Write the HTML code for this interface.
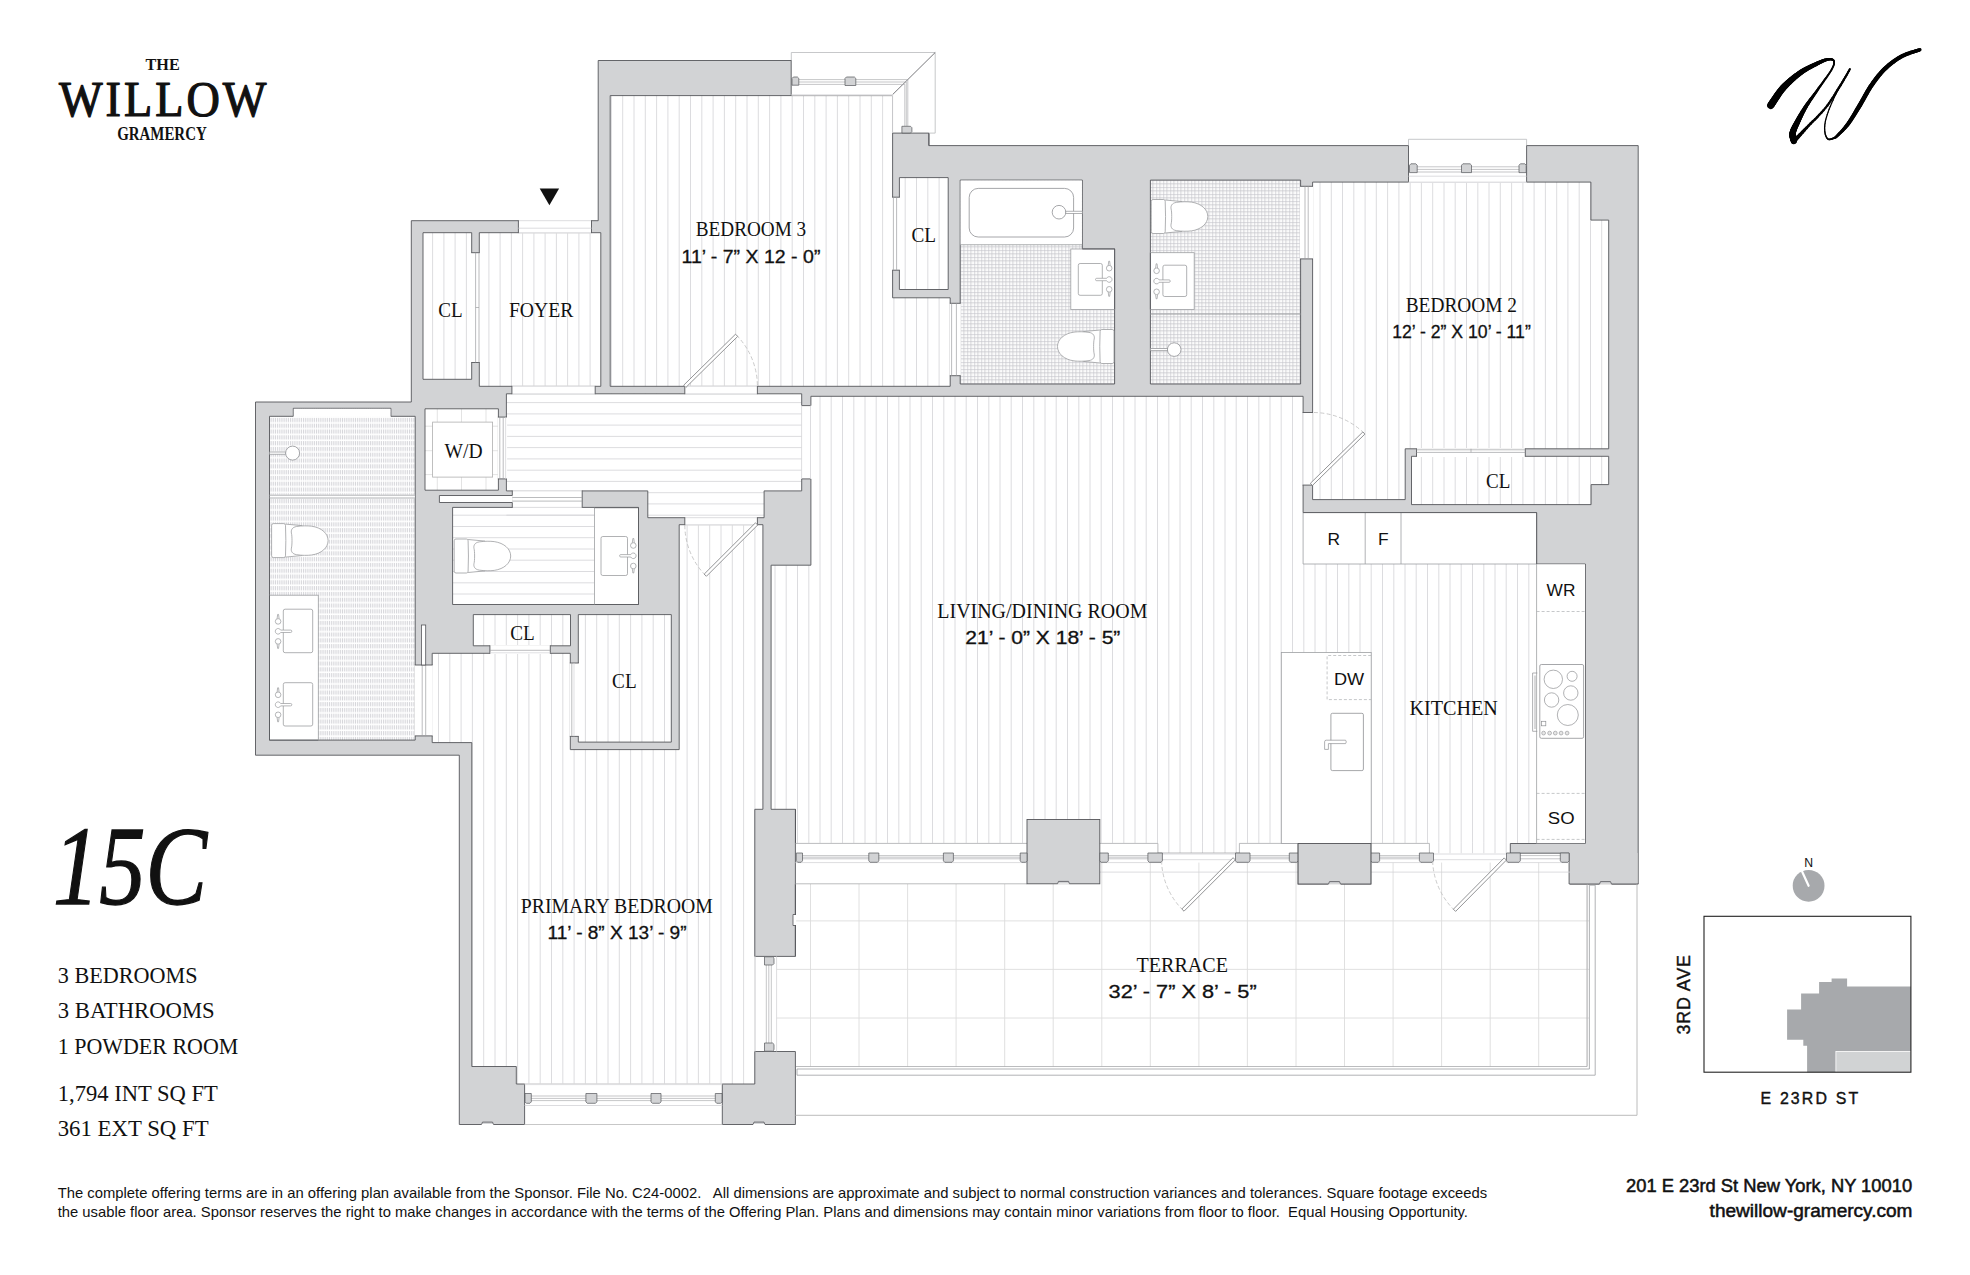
<!DOCTYPE html>
<html lang="en"><head><meta charset="utf-8"><title>The Willow Gramercy - 15C</title>
<style>
html,body{margin:0;padding:0;background:#fff}
svg{display:block}
text{fill:#111}
.sf{font-family:"Liberation Serif","DejaVu Serif",serif}
.ss{font-family:"Liberation Sans","DejaVu Sans",sans-serif}
</style></head><body>
<svg width="1970" height="1275" viewBox="0 0 1970 1275">
<defs>
<pattern id="tile" x="960.2" y="180.1" width="7" height="7" patternUnits="userSpaceOnUse"><rect width="7" height="7" fill="#fbfbfb"/><path d="M0 .3H7M0 3.8H7M.3 0V7M3.8 0V7" stroke="#c3c3c9" stroke-width=".75"/></pattern>
<pattern id="tile2" x="269.5" y="416.9" width="1.86" height="5.8" patternUnits="userSpaceOnUse"><rect width="1.86" height="5.8" fill="#fff"/><path d="M.5 1V5.2" stroke="#c9c9cd" stroke-width=".75"/></pattern>
</defs>
<rect width="1970" height="1275" fill="#fff"/>
<path d="M611.4 95.0V394.0M622.7 95.0V394.0M634.0 95.0V394.0M645.3 95.0V394.0M656.6 95.0V394.0M667.9 95.0V394.0M679.2 95.0V394.0M690.5 95.0V394.0M701.8 95.0V394.0M713.1 95.0V394.0M724.4 95.0V394.0M735.7 95.0V394.0M747.0 95.0V394.0M758.3 95.0V394.0M769.6 95.0V394.0M780.9 95.0V394.0M792.2 95.0V394.0M803.5 95.0V394.0M814.8 95.0V394.0M826.1 95.0V394.0M837.4 95.0V394.0M848.7 95.0V394.0M860.0 95.0V394.0M871.3 95.0V394.0M882.6 95.0V394.0" stroke="#d3d3d7" stroke-width="0.8" fill="none"/>
<path d="M893.9 297.0V394.0M905.2 297.0V394.0M916.5 297.0V394.0M927.8 297.0V394.0M939.1 297.0V394.0M950.4 297.0V394.0" stroke="#d3d3d7" stroke-width="0.8" fill="none"/>
<path d="M905.2 177.0V290.0M916.5 177.0V290.0M927.8 177.0V290.0M939.1 177.0V290.0" stroke="#d3d3d7" stroke-width="0.8" fill="none"/>
<path d="M432.6 232.0V387.0M443.9 232.0V387.0M455.1 232.0V387.0M466.4 232.0V387.0M477.6 232.0V387.0M488.9 232.0V387.0M500.1 232.0V387.0M511.4 232.0V387.0M522.6 232.0V387.0M533.9 232.0V387.0M545.1 232.0V387.0M556.4 232.0V387.0M567.6 232.0V387.0M578.9 232.0V387.0M590.1 232.0V387.0" stroke="#d3d3d7" stroke-width="0.8" fill="none"/>
<path d="M820.0 396.0V853.0M831.2 396.0V853.0M842.5 396.0V853.0M853.8 396.0V853.0M865.0 396.0V853.0M876.2 396.0V853.0M887.5 396.0V853.0M898.8 396.0V853.0M910.0 396.0V853.0M921.2 396.0V853.0M932.5 396.0V853.0M943.8 396.0V853.0M955.0 396.0V853.0M966.2 396.0V853.0M977.5 396.0V853.0M988.8 396.0V853.0M1000.0 396.0V853.0M1011.2 396.0V853.0M1022.5 396.0V853.0M1033.8 396.0V853.0M1045.0 396.0V853.0M1056.2 396.0V853.0M1067.5 396.0V853.0M1078.8 396.0V853.0M1090.0 396.0V853.0M1101.2 396.0V853.0M1112.5 396.0V853.0M1123.8 396.0V853.0M1135.0 396.0V853.0M1146.2 396.0V853.0M1157.5 396.0V853.0M1168.8 396.0V853.0M1180.0 396.0V853.0M1191.2 396.0V853.0M1202.5 396.0V853.0M1213.8 396.0V853.0M1225.0 396.0V853.0M1236.2 396.0V853.0M1247.5 396.0V853.0M1258.8 396.0V853.0M1270.0 396.0V853.0M1281.2 396.0V853.0M1292.5 396.0V853.0" stroke="#d3d3d7" stroke-width="0.8" fill="none"/>
<path d="M1303.8 564.0V853.0M1315.0 564.0V853.0M1326.2 564.0V853.0M1337.5 564.0V853.0M1348.8 564.0V853.0M1360.0 564.0V853.0M1371.2 564.0V853.0M1382.5 564.0V853.0M1393.8 564.0V853.0M1405.0 564.0V853.0M1416.2 564.0V853.0M1427.5 564.0V853.0M1438.8 564.0V853.0M1450.0 564.0V853.0M1461.2 564.0V853.0M1472.5 564.0V853.0M1483.8 564.0V853.0M1495.0 564.0V853.0M1506.2 564.0V853.0M1517.5 564.0V853.0M1528.8 564.0V853.0" stroke="#d3d3d7" stroke-width="0.8" fill="none"/>
<path d="M775.0 565.0V853.0M786.2 565.0V853.0M797.5 565.0V853.0M808.8 565.0V853.0" stroke="#d3d3d7" stroke-width="0.8" fill="none"/>
<path d="M1320.0 182.0V449.0M1331.3 182.0V449.0M1342.5 182.0V449.0M1353.8 182.0V449.0M1365.1 182.0V449.0M1376.3 182.0V449.0M1387.6 182.0V449.0M1398.9 182.0V449.0M1410.2 182.0V449.0M1421.4 182.0V449.0M1432.7 182.0V449.0M1444.0 182.0V449.0M1455.2 182.0V449.0M1466.5 182.0V449.0M1477.8 182.0V449.0M1489.0 182.0V449.0M1500.3 182.0V449.0M1511.6 182.0V449.0M1522.9 182.0V449.0M1534.1 182.0V449.0M1545.4 182.0V449.0M1556.7 182.0V449.0M1567.9 182.0V449.0M1579.2 182.0V449.0M1590.5 182.0V449.0M1601.7 182.0V449.0" stroke="#d3d3d7" stroke-width="0.8" fill="none"/>
<path d="M1320.0 449.0V500.0M1331.3 449.0V500.0M1342.5 449.0V500.0M1353.8 449.0V500.0M1365.1 449.0V500.0M1376.3 449.0V500.0M1387.6 449.0V500.0M1398.9 449.0V500.0" stroke="#d3d3d7" stroke-width="0.8" fill="none"/>
<path d="M1421.4 456.0V505.0M1432.7 456.0V505.0M1444.0 456.0V505.0M1455.2 456.0V505.0M1466.5 456.0V505.0M1477.8 456.0V505.0M1489.0 456.0V505.0M1500.3 456.0V505.0M1511.6 456.0V505.0M1522.9 456.0V505.0M1534.1 456.0V505.0M1545.4 456.0V505.0M1556.7 456.0V505.0M1567.9 456.0V505.0M1579.2 456.0V505.0M1590.5 456.0V505.0M1601.7 456.0V505.0" stroke="#d3d3d7" stroke-width="0.8" fill="none"/>
<path d="M438.5 653.0V743.0M449.8 653.0V743.0M461.1 653.0V743.0M472.4 653.0V743.0M483.7 653.0V743.0M495.0 653.0V743.0M506.3 653.0V743.0M517.6 653.0V743.0M528.9 653.0V743.0M540.2 653.0V743.0M551.5 653.0V743.0M562.8 653.0V743.0" stroke="#d3d3d7" stroke-width="0.8" fill="none"/>
<path d="M472.4 743.0V1085.0M483.7 743.0V1085.0M495.0 743.0V1085.0M506.3 743.0V1085.0M517.6 743.0V1085.0M528.9 743.0V1085.0M540.2 743.0V1085.0M551.5 743.0V1085.0M562.8 743.0V1085.0M574.1 743.0V1085.0M585.4 743.0V1085.0M596.7 743.0V1085.0M608.0 743.0V1085.0M619.3 743.0V1085.0M630.6 743.0V1085.0M641.9 743.0V1085.0M653.2 743.0V1085.0M664.5 743.0V1085.0M675.8 743.0V1085.0M687.1 743.0V1085.0M698.4 743.0V1085.0M709.7 743.0V1085.0M721.0 743.0V1085.0M732.3 743.0V1085.0M743.6 743.0V1085.0M754.9 743.0V1085.0" stroke="#d3d3d7" stroke-width="0.8" fill="none"/>
<path d="M687.1 519.0V743.0M698.4 519.0V743.0M709.7 519.0V743.0M721.0 519.0V743.0M732.3 519.0V743.0M743.6 519.0V743.0M754.9 519.0V743.0" stroke="#d3d3d7" stroke-width="0.8" fill="none"/>
<path d="M483.7 614.0V654.0M495.0 614.0V654.0M506.3 614.0V654.0M517.6 614.0V654.0M528.9 614.0V654.0M540.2 614.0V654.0M551.5 614.0V654.0M562.8 614.0V654.0" stroke="#d3d3d7" stroke-width="0.8" fill="none"/>
<path d="M585.4 614.0V743.0M596.7 614.0V743.0M608.0 614.0V743.0M619.3 614.0V743.0M630.6 614.0V743.0M641.9 614.0V743.0M653.2 614.0V743.0M664.5 614.0V743.0" stroke="#d3d3d7" stroke-width="0.8" fill="none"/>
<path d="M506.4 402.6H801.7M506.4 413.9H801.7M506.4 425.1H801.7M506.4 436.4H801.7M506.4 447.6H801.7M506.4 458.9H801.7M506.4 470.2H801.7M506.4 481.4H801.7M506.4 492.7H801.7M506.4 503.9H801.7M506.4 515.2H801.7" stroke="#d3d3d7" stroke-width="0.8" fill="none"/>
<path d="M452.6 515.2H594.5M452.6 526.5H594.5M452.6 537.7H594.5M452.6 549.0H594.5M452.6 560.2H594.5M452.6 571.5H594.5M452.6 582.8H594.5M452.6 594.0H594.5" stroke="#d3d3d7" stroke-width="0.8" fill="none"/>
<rect x="960.0" y="180.0" width="155.0" height="204.5" fill="url(#tile)"  />
<rect x="1150.0" y="180.0" width="151.0" height="204.5" fill="url(#tile)"  />
<rect x="269.0" y="408.0" width="147.0" height="333.0" fill="url(#tile2)"  />
<rect x="425.0" y="408.8" width="73.4" height="81.4" fill="#fff"  />
<line x1="437.3" y1="408.8" x2="437.3" y2="490.2" stroke="#dcdcdc" stroke-width="0.8" />
<line x1="461.5" y1="408.8" x2="461.5" y2="490.2" stroke="#dcdcdc" stroke-width="0.8" />
<line x1="486.0" y1="408.8" x2="486.0" y2="490.2" stroke="#dcdcdc" stroke-width="0.8" />
<line x1="425.0" y1="426.2" x2="498.4" y2="426.2" stroke="#dcdcdc" stroke-width="0.8" />
<line x1="425.0" y1="450.7" x2="498.4" y2="450.7" stroke="#dcdcdc" stroke-width="0.8" />
<line x1="425.0" y1="474.6" x2="498.4" y2="474.6" stroke="#dcdcdc" stroke-width="0.8" />
<path d="M598.2 60.5 L928.9 60.5 L928.9 145.6 L1638.2 145.6 L1638.2 884.0 L795.4 884.0 L795.4 1124.5 L459.3 1124.5 L459.3 755.2 L255.5 755.2 L255.5 402.0 L411.3 402.0 L411.3 220.7 L598.2 220.7 Z M423.0 232.7 L471.7 232.7 L471.7 379.3 L423.0 379.3 Z M479.3 232.7 L600.8 232.7 L600.8 386.3 L479.3 386.3 Z M610.2 95.6 L892.6 95.6 L892.6 297.8 L950.2 297.8 L950.2 386.3 L610.2 386.3 Z M899.4 177.6 L948.2 177.6 L948.2 289.5 L899.4 289.5 Z M960.2 180.1 L1082.3 180.1 L1082.3 249.0 L1114.6 249.0 L1114.6 384.0 L960.2 384.0 Z M1150.4 180.1 L1300.6 180.1 L1300.6 384.0 L1150.4 384.0 Z M1312.6 182.1 L1590.9 182.1 L1590.9 220.1 L1608.7 220.1 L1608.7 448.8 L1405.2 448.8 L1405.2 499.6 L1312.6 499.6 Z M1411.5 456.3 L1608.7 456.3 L1608.7 484.6 L1591.1 484.6 L1591.1 504.6 L1411.5 504.6 Z M506.4 393.8 L801.7 393.8 L801.7 405.6 L810.9 405.6 L810.9 396.3 L1303.1 396.3 L1303.1 512.6 L1536.6 512.6 L1536.6 564.0 L1585.4 564.0 L1585.4 843.5 L795.5 843.5 L795.5 809.3 L771.1 809.3 L771.1 565.2 L810.9 565.2 L810.9 478.9 L801.7 478.9 L801.7 490.9 L764.1 490.9 L764.1 517.7 L647.8 517.7 L647.8 490.9 L512.3 490.9 L506.4 490.9 Z M425.0 408.8 L498.4 408.8 L498.4 490.2 L425.0 490.2 Z M439.4 495.5 L513.2 495.5 L513.2 502.5 L439.4 502.5 Z M452.6 507.4 L638.5 507.4 L638.5 604.5 L452.6 604.5 Z M473.3 614.6 L570.5 614.6 L570.5 645.8 L473.3 645.8 Z M578.3 614.6 L671.3 614.6 L671.3 742.1 L578.3 742.1 Z M269.5 416.3 L293.3 416.3 L293.3 408.3 L390.9 408.3 L390.9 416.3 L415.2 416.3 L415.2 740.1 L269.5 740.1 Z M432.2 653.3 L570.3 653.3 L570.3 749.6 L679.2 749.6 L679.2 524.7 L762.9 524.7 L762.9 809.3 L754.8 809.3 L754.8 1084.0 L516.3 1084.0 L516.3 1066.5 L471.8 1066.5 L471.8 742.6 L432.2 742.6 Z" fill="#d2d3d5" fill-rule="evenodd" stroke="#55565a" stroke-width=".9" stroke-linejoin="miter"/>
<rect x="518.4" y="220.0" width="73.1" height="13.4" fill="#fff"  />
<line x1="518.4" y1="220.7" x2="591.5" y2="220.7" stroke="#d3d3d7" stroke-width="0.8" />
<line x1="518.4" y1="232.7" x2="591.5" y2="232.7" stroke="#d3d3d7" stroke-width="0.8" />
<line x1="518.4" y1="220.2" x2="518.4" y2="233.1" stroke="#55565a" stroke-width="0.9" />
<line x1="591.5" y1="220.2" x2="591.5" y2="233.1" stroke="#55565a" stroke-width="0.9" />
<line x1="518.4" y1="228.2" x2="591.5" y2="228.2" stroke="#d3d3d7" stroke-width="0.8" />
<rect x="471.0" y="252.7" width="9.0" height="109.8" fill="#fff"  />
<line x1="471.2" y1="252.7" x2="479.8" y2="252.7" stroke="#55565a" stroke-width="0.9" />
<line x1="471.2" y1="362.5" x2="479.8" y2="362.5" stroke="#55565a" stroke-width="0.9" />
<line x1="475.6" y1="252.7" x2="475.6" y2="362.5" stroke="#9d9fa2" stroke-width="0.7" />
<line x1="479.0" y1="252.7" x2="479.0" y2="362.5" stroke="#9d9fa2" stroke-width="0.7" />
<line x1="475.6" y1="307.5" x2="479.0" y2="307.5" stroke="#9d9fa2" stroke-width="0.7" />
<rect x="511.9" y="385.6" width="83.3" height="8.9" fill="#fff"  />
<line x1="511.9" y1="386.3" x2="595.2" y2="386.3" stroke="#d3d3d7" stroke-width="0.8" />
<line x1="511.9" y1="393.8" x2="595.2" y2="393.8" stroke="#d3d3d7" stroke-width="0.8" />
<line x1="511.9" y1="385.9" x2="511.9" y2="394.2" stroke="#55565a" stroke-width="0.9" />
<line x1="595.2" y1="385.9" x2="595.2" y2="394.2" stroke="#55565a" stroke-width="0.9" />
<rect x="684.8" y="385.6" width="72.6" height="8.9" fill="#fff"  />
<line x1="684.8" y1="386.3" x2="757.4" y2="386.3" stroke="#d3d3d7" stroke-width="0.8" />
<line x1="684.8" y1="393.8" x2="757.4" y2="393.8" stroke="#d3d3d7" stroke-width="0.8" />
<line x1="684.8" y1="385.9" x2="684.8" y2="394.2" stroke="#55565a" stroke-width="0.9" />
<line x1="757.4" y1="385.9" x2="757.4" y2="394.2" stroke="#55565a" stroke-width="0.9" />
<line x1="801.6" y1="405.6" x2="801.6" y2="478.9" stroke="#d3d3d7" stroke-width="0.8" />
<line x1="810.5" y1="405.6" x2="810.5" y2="478.9" stroke="#d3d3d7" stroke-width="0.8" />
<rect x="891.9" y="197.2" width="8.2" height="73.0" fill="#fff"  />
<line x1="892.1" y1="197.2" x2="899.9" y2="197.2" stroke="#55565a" stroke-width="0.9" />
<line x1="892.1" y1="270.2" x2="899.9" y2="270.2" stroke="#55565a" stroke-width="0.9" />
<line x1="893.4" y1="197.2" x2="893.4" y2="270.2" stroke="#9d9fa2" stroke-width="0.7" />
<line x1="896.6" y1="197.2" x2="896.6" y2="270.2" stroke="#9d9fa2" stroke-width="0.7" />
<rect x="949.5" y="303.3" width="11.4" height="72.4" fill="#fff"  />
<line x1="949.8" y1="303.3" x2="960.7" y2="303.3" stroke="#55565a" stroke-width="0.9" />
<line x1="949.8" y1="375.7" x2="960.7" y2="375.7" stroke="#55565a" stroke-width="0.9" />
<line x1="951.6" y1="303.3" x2="951.6" y2="375.7" stroke="#9d9fa2" stroke-width="0.7" />
<line x1="956.4" y1="303.3" x2="956.4" y2="375.7" stroke="#9d9fa2" stroke-width="0.7" />
<rect x="1299.9" y="186.3" width="13.4" height="72.6" fill="#fff"  />
<line x1="1300.1" y1="186.3" x2="1313.0" y2="186.3" stroke="#55565a" stroke-width="0.9" />
<line x1="1300.1" y1="258.9" x2="1313.0" y2="258.9" stroke="#55565a" stroke-width="0.9" />
<line x1="1305.0" y1="186.3" x2="1305.0" y2="258.9" stroke="#9d9fa2" stroke-width="0.7" />
<line x1="1308.2" y1="186.3" x2="1308.2" y2="258.9" stroke="#9d9fa2" stroke-width="0.7" />
<rect x="1302.4" y="412.5" width="10.9" height="72.6" fill="#fff"  />
<line x1="1303.1" y1="412.5" x2="1303.1" y2="485.1" stroke="#d3d3d7" stroke-width="0.8" />
<line x1="1312.6" y1="412.5" x2="1312.6" y2="485.1" stroke="#d3d3d7" stroke-width="0.8" />
<line x1="1302.6" y1="412.5" x2="1313.0" y2="412.5" stroke="#55565a" stroke-width="0.9" />
<line x1="1302.6" y1="485.1" x2="1313.0" y2="485.1" stroke="#55565a" stroke-width="0.9" />
<rect x="1416.5" y="448.1" width="108.8" height="8.9" fill="#fff"  />
<line x1="1416.5" y1="448.4" x2="1416.5" y2="456.8" stroke="#55565a" stroke-width="0.9" />
<line x1="1525.3" y1="448.4" x2="1525.3" y2="456.8" stroke="#55565a" stroke-width="0.9" />
<line x1="1416.5" y1="449.8" x2="1525.3" y2="449.8" stroke="#9d9fa2" stroke-width="0.7" />
<line x1="1416.5" y1="452.4" x2="1525.3" y2="452.4" stroke="#9d9fa2" stroke-width="0.7" />
<line x1="1471.0" y1="448.8" x2="1471.0" y2="452.4" stroke="#9d9fa2" stroke-width="0.7" />
<rect x="497.7" y="417.1" width="9.4" height="61.8" fill="#fff"  />
<line x1="497.9" y1="417.1" x2="506.8" y2="417.1" stroke="#55565a" stroke-width="0.9" />
<line x1="497.9" y1="478.9" x2="506.8" y2="478.9" stroke="#55565a" stroke-width="0.9" />
<line x1="499.8" y1="417.1" x2="499.8" y2="478.9" stroke="#9d9fa2" stroke-width="0.7" />
<line x1="503.2" y1="417.1" x2="503.2" y2="478.9" stroke="#9d9fa2" stroke-width="0.7" />
<line x1="505.6" y1="417.1" x2="505.6" y2="478.9" stroke="#d3d3d7" stroke-width="0.7" />
<rect x="512.3" y="490.2" width="69.9" height="17.9" fill="#fff"  />
<line x1="512.3" y1="490.9" x2="582.2" y2="490.9" stroke="#d3d3d7" stroke-width="0.8" />
<line x1="512.3" y1="507.4" x2="582.2" y2="507.4" stroke="#d3d3d7" stroke-width="0.8" />
<line x1="582.2" y1="490.4" x2="582.2" y2="507.8" stroke="#55565a" stroke-width="0.9" />
<line x1="512.3" y1="497.5" x2="582.2" y2="497.5" stroke="#9d9fa2" stroke-width="0.7" />
<line x1="512.3" y1="501.1" x2="582.2" y2="501.1" stroke="#9d9fa2" stroke-width="0.7" />
<line x1="512.3" y1="490.4" x2="512.3" y2="495.5" stroke="#55565a" stroke-width="0.9" />
<line x1="512.3" y1="502.5" x2="512.3" y2="507.9" stroke="#55565a" stroke-width="0.9" />
<rect x="489.9" y="645.1" width="60.4" height="8.9" fill="#fff"  />
<line x1="489.9" y1="645.3" x2="489.9" y2="653.8" stroke="#55565a" stroke-width="0.9" />
<line x1="550.3" y1="645.3" x2="550.3" y2="653.8" stroke="#55565a" stroke-width="0.9" />
<line x1="489.9" y1="650.3" x2="550.3" y2="650.3" stroke="#9d9fa2" stroke-width="0.7" />
<line x1="489.9" y1="652.8" x2="550.3" y2="652.8" stroke="#d3d3d7" stroke-width="0.7" />
<rect x="569.6" y="663.0" width="9.4" height="73.4" fill="#fff"  />
<line x1="569.8" y1="663.0" x2="578.8" y2="663.0" stroke="#55565a" stroke-width="0.9" />
<line x1="569.8" y1="736.4" x2="578.8" y2="736.4" stroke="#55565a" stroke-width="0.9" />
<line x1="571.8" y1="663.0" x2="571.8" y2="736.4" stroke="#9d9fa2" stroke-width="0.7" />
<line x1="574.0" y1="663.0" x2="574.0" y2="736.4" stroke="#d3d3d7" stroke-width="0.7" />
<rect x="414.5" y="665.0" width="18.4" height="70.9" fill="#fff"  />
<line x1="414.8" y1="665.0" x2="432.6" y2="665.0" stroke="#55565a" stroke-width="0.9" />
<line x1="414.8" y1="735.9" x2="432.6" y2="735.9" stroke="#55565a" stroke-width="0.9" />
<line x1="422.2" y1="665.0" x2="422.2" y2="735.9" stroke="#9d9fa2" stroke-width="0.7" />
<line x1="425.7" y1="665.0" x2="425.7" y2="735.9" stroke="#9d9fa2" stroke-width="0.7" />
<rect x="421.4" y="625.0" width="4.3" height="40.0" fill="#fff" stroke="#55565a" stroke-width="0.8" />
<rect x="684.8" y="517.0" width="72.6" height="8.4" fill="#fff"  />
<line x1="684.8" y1="517.7" x2="757.4" y2="517.7" stroke="#d3d3d7" stroke-width="0.8" />
<line x1="684.8" y1="524.7" x2="757.4" y2="524.7" stroke="#d3d3d7" stroke-width="0.8" />
<line x1="684.8" y1="517.2" x2="684.8" y2="525.2" stroke="#55565a" stroke-width="0.9" />
<line x1="757.4" y1="517.2" x2="757.4" y2="525.2" stroke="#55565a" stroke-width="0.9" />
<polygon points="791.2,59.5 930.0,59.5 930.0,133.1 892.6,133.1 892.6,95.6 791.2,95.6" fill="#fff"  />
<line x1="791.2" y1="60.0" x2="791.2" y2="95.6" stroke="#55565a" stroke-width="0.9" />
<line x1="892.6" y1="133.1" x2="928.9" y2="133.1" stroke="#55565a" stroke-width="0.9" />
<line x1="928.9" y1="133.1" x2="928.9" y2="145.6" stroke="#55565a" stroke-width="0.9" />
<path d="M791.3 60.5V52.5H935.2V133.1H928.9" fill="none" stroke="#b9babd" stroke-width=".8"/>
<line x1="935.2" y1="52.5" x2="892.6" y2="94.6" stroke="#55565a" stroke-width="0.8" />
<line x1="791.3" y1="94.8" x2="892.6" y2="94.8" stroke="#d3d3d7" stroke-width="0.8" />
<line x1="892.6" y1="94.8" x2="892.6" y2="133.1" stroke="#d3d3d7" stroke-width="0.8" />
<path d="M798.8 79.6H907.8V126.3M798.8 84.4H904.8V126.3M798.8 82H906.3V126.3" fill="none" stroke="#9d9fa2" stroke-width=".6"/>
<polygon points="792.0,78.4 793.4,77.0 797.4,77.0 798.8,78.4 798.8,85.2 792.0,85.2" fill="#d2d3d5" stroke="#55565a" stroke-width="0.7" />
<polygon points="845.0,78.4 846.4,77.0 854.4,77.0 855.8,78.4 855.8,85.5 845.0,85.5" fill="#d2d3d5" stroke="#55565a" stroke-width="0.7" />
<polygon points="901.9,126.3 910.5,126.3 911.9,127.7 911.9,131.6 910.5,133.0 901.9,133.0" fill="#d2d3d5" stroke="#55565a" stroke-width="0.7" />
<rect x="1408.5" y="144.5" width="118.1" height="38.3" fill="#fff"  />
<line x1="1408.5" y1="145.2" x2="1408.5" y2="182.1" stroke="#55565a" stroke-width="0.9" />
<line x1="1526.6" y1="145.2" x2="1526.6" y2="182.1" stroke="#55565a" stroke-width="0.9" />
<path d="M1408.5 145.6V139.3H1526.6V145.6" fill="none" stroke="#b9babd" stroke-width=".8"/>
<line x1="1408.5" y1="182.1" x2="1526.6" y2="182.1" stroke="#d3d3d7" stroke-width="0.8" />
<path d="M1417 166.8H1519M1417 169.4H1519M1417 172H1519" fill="none" stroke="#9d9fa2" stroke-width=".6"/>
<line x1="1408.5" y1="176.2" x2="1526.6" y2="176.2" stroke="#d3d3d7" stroke-width="0.8" />
<polygon points="1409.5,165.2 1410.9,163.8 1415.8,163.8 1417.2,165.2 1417.2,172.6 1409.5,172.6" fill="#d2d3d5" stroke="#55565a" stroke-width="0.7" />
<polygon points="1461.5,165.2 1462.9,163.8 1470.1,163.8 1471.5,165.2 1471.5,172.6 1461.5,172.6" fill="#d2d3d5" stroke="#55565a" stroke-width="0.7" />
<polygon points="1519.0,165.2 1520.4,163.8 1524.8,163.8 1526.2,165.2 1526.2,172.6 1519.0,172.6" fill="#d2d3d5" stroke="#55565a" stroke-width="0.7" />
<rect x="293.8" y="408.8" width="96.6" height="8.0" fill="#fff"  />
<rect x="524.6" y="1083.4" width="197.7" height="41.8" fill="#fff"  />
<line x1="524.6" y1="1084.0" x2="524.6" y2="1124.5" stroke="#55565a" stroke-width="0.9" />
<line x1="722.3" y1="1084.0" x2="722.3" y2="1124.5" stroke="#55565a" stroke-width="0.9" />
<line x1="524.6" y1="1084.6" x2="722.3" y2="1084.6" stroke="#d3d3d7" stroke-width="0.8" />
<line x1="524.6" y1="1124.5" x2="722.3" y2="1124.5" stroke="#b9b9b9" stroke-width="0.8" />
<path d="M531 1096H716M531 1098.4H716M531 1100.6H716" fill="none" stroke="#9d9fa2" stroke-width=".6"/>
<line x1="524.6" y1="1105.5" x2="722.3" y2="1105.5" stroke="#d3d3d7" stroke-width="0.8" />
<polygon points="525.0,1093.5 531.3,1093.5 531.3,1101.9 529.9,1103.3 526.4,1103.3 525.0,1101.9" fill="#d2d3d5" stroke="#55565a" stroke-width="0.7" />
<polygon points="585.9,1093.5 596.9,1093.5 596.9,1101.9 595.5,1103.3 587.3,1103.3 585.9,1101.9" fill="#d2d3d5" stroke="#55565a" stroke-width="0.7" />
<polygon points="651.0,1093.5 661.0,1093.5 661.0,1101.9 659.6,1103.3 652.4,1103.3 651.0,1101.9" fill="#d2d3d5" stroke="#55565a" stroke-width="0.7" />
<polygon points="715.3,1093.5 722.0,1093.5 722.0,1101.9 720.6,1103.3 716.7,1103.3 715.3,1101.9" fill="#d2d3d5" stroke="#55565a" stroke-width="0.7" />
<rect x="754.2" y="956.4" width="42.0" height="95.1" fill="#fff"  />
<line x1="754.8" y1="956.4" x2="795.4" y2="956.4" stroke="#55565a" stroke-width="0.9" />
<line x1="754.8" y1="1051.5" x2="795.4" y2="1051.5" stroke="#55565a" stroke-width="0.9" />
<line x1="755.3" y1="956.4" x2="755.3" y2="1051.5" stroke="#d3d3d7" stroke-width="0.8" />
<line x1="776.6" y1="956.4" x2="776.6" y2="1051.5" stroke="#d3d3d7" stroke-width="0.8" />
<path d="M766.3 965V1043M768.8 965V1043M771.3 965V1043" fill="none" stroke="#9d9fa2" stroke-width=".6"/>
<polygon points="764.5,956.8 772.6,956.8 774.0,958.2 774.0,963.6 772.6,965.0 764.5,965.0" fill="#d2d3d5" stroke="#55565a" stroke-width="0.7" />
<polygon points="764.5,1043.0 772.6,1043.0 774.0,1044.4 774.0,1049.8 772.6,1051.2 764.5,1051.2" fill="#d2d3d5" stroke="#55565a" stroke-width="0.7" />
<rect x="795.4" y="842.9" width="774.6" height="42.1" fill="#fff"  />
<rect x="1510.3" y="843.5" width="75.7" height="9.7" fill="#d2d3d5"  />
<rect x="1569.1" y="853.0" width="68.5" height="31.0" fill="#d2d3d5"  />
<path d="M1168.8 843.0V853.0M1180.0 843.0V853.0M1191.2 843.0V853.0M1202.5 843.0V853.0M1213.8 843.0V853.0M1225.0 843.0V853.0M1236.2 843.0V853.0" stroke="#d3d3d7" stroke-width="0.8" fill="none"/>
<path d="M1438.8 843.0V853.2M1450.0 843.0V853.2M1461.2 843.0V853.2M1472.5 843.0V853.2M1483.8 843.0V853.2M1495.0 843.0V853.2M1506.2 843.0V853.2" stroke="#d3d3d7" stroke-width="0.8" fill="none"/>
<path d="M810.5 884V1066.5M859.0 884V1066.5M907.6 884V1066.5M956.1 884V1066.5M1004.7 884V1066.5M1053.2 884V1066.5M1101.8 862.6V1066.5M1150.3 862.6V1066.5M1198.9 862.6V1066.5M1247.4 862.6V1066.5M1296.0 862.6V1066.5M1344.5 862.6V1066.5M1393.1 862.6V1066.5M1441.6 862.6V1066.5M1490.2 862.6V1066.5M1538.7 862.6V1066.5M1587.3 884V1066.5M796 920.9H1589.4M776.6 969.4H1589.4M776.6 1018H1589.4" stroke="#dcdcdc" stroke-width=".9" fill="none"/>
<path d="M1585.4 843.5H1510.3V853.2H1569.1V884H1638.2" fill="none" stroke="#55565a" stroke-width=".9"/>
<line x1="795.4" y1="809.3" x2="795.4" y2="956.4" stroke="#55565a" stroke-width="0.9" />
<path d="M795.4 843.4H1157.9V853H1239.4V843.4H1429.4V853.2" fill="none" stroke="#9d9fa2" stroke-width=".7"/>
<line x1="795.4" y1="883.8" x2="1027.0" y2="883.8" stroke="#9d9fa2" stroke-width="0.7" />
<line x1="1099.8" y1="872.1" x2="1589.0" y2="872.1" stroke="#d3d3d7" stroke-width="0.8" />
<line x1="795.4" y1="862.6" x2="1162.4" y2="862.6" stroke="#d3d3d7" stroke-width="0.8" />
<line x1="1235.5" y1="862.6" x2="1433.5" y2="862.6" stroke="#d3d3d7" stroke-width="0.8" />
<line x1="1506.5" y1="862.6" x2="1569.0" y2="862.6" stroke="#d3d3d7" stroke-width="0.8" />
<path d="M802 855.6H1148M802 858.8H1148M1250 855.6H1420M1250 858.8H1420M1520 855.6H1561M1520 858.8H1561M802 857.2H1148M1250 857.2H1420" fill="none" stroke="#9d9fa2" stroke-width=".6"/>
<path d="M1162 854H1235.5M1162 859.7H1235.5M1433.5 854H1506.5M1433.5 859.7H1506.5" fill="none" stroke="#d3d3d7" stroke-width=".8"/>
<rect x="1027.0" y="819.5" width="72.8" height="64.3" fill="#d2d3d5" stroke="#55565a" stroke-width="0.9" />
<rect x="1298.1" y="843.5" width="72.8" height="40.5" fill="#d2d3d5" stroke="#55565a" stroke-width="0.9" />
<rect x="1057.5" y="883.2" width="12.0" height="1.4" fill="#fff"  />
<path d="M1057.5 883.8L1058.5 881.4H1068.5L1069.5 883.8" fill="none" stroke="#55565a" stroke-width=".8"/>
<rect x="1328.5" y="883.4" width="12.0" height="1.4" fill="#fff"  />
<path d="M1328.5 884L1329.5 881.6H1339.5L1340.5 884" fill="none" stroke="#55565a" stroke-width=".8"/>
<rect x="1599.5" y="883.4" width="12.0" height="1.4" fill="#fff"  />
<path d="M1599.5 884L1600.5 881.6H1610.5L1611.5 884" fill="none" stroke="#55565a" stroke-width=".8"/>
<rect x="481.5" y="1123.9" width="12.0" height="1.4" fill="#fff"  />
<path d="M481.5 1124.5L482.5 1122.1H492.5L493.5 1124.5" fill="none" stroke="#55565a" stroke-width=".8"/>
<rect x="753.0" y="1123.9" width="12.0" height="1.4" fill="#fff"  />
<path d="M753 1124.5L754 1122.1H764L765 1124.5" fill="none" stroke="#55565a" stroke-width=".8"/>
<rect x="793.0" y="915.0" width="3.2" height="10.0" fill="#fff"  />
<path d="M795.4 914.5H793V925.5H795.4" fill="none" stroke="#55565a" stroke-width=".8"/>
<polygon points="796.3,853.0 802.5,853.0 802.5,860.9 801.1,862.3 797.7,862.3 796.3,860.9" fill="#d2d3d5" stroke="#55565a" stroke-width="0.7" />
<polygon points="868.8,853.0 878.8,853.0 878.8,860.9 877.4,862.3 870.2,862.3 868.8,860.9" fill="#d2d3d5" stroke="#55565a" stroke-width="0.7" />
<polygon points="943.4,853.0 953.4,853.0 953.4,860.9 952.0,862.3 944.8,862.3 943.4,860.9" fill="#d2d3d5" stroke="#55565a" stroke-width="0.7" />
<polygon points="1020.2,853.0 1027.0,853.0 1027.0,860.9 1025.6,862.3 1021.6,862.3 1020.2,860.9" fill="#d2d3d5" stroke="#55565a" stroke-width="0.7" />
<polygon points="1099.8,853.0 1108.3,853.0 1108.3,860.9 1106.9,862.3 1101.2,862.3 1099.8,860.9" fill="#d2d3d5" stroke="#55565a" stroke-width="0.7" />
<polygon points="1147.9,853.0 1162.4,853.0 1162.4,860.9 1161.0,862.3 1149.3,862.3 1147.9,860.9" fill="#d2d3d5" stroke="#55565a" stroke-width="0.7" />
<polygon points="1235.5,853.0 1250.0,853.0 1250.0,860.9 1248.6,862.3 1236.9,862.3 1235.5,860.9" fill="#d2d3d5" stroke="#55565a" stroke-width="0.7" />
<polygon points="1289.3,853.0 1298.1,853.0 1298.1,860.9 1296.7,862.3 1290.7,862.3 1289.3,860.9" fill="#d2d3d5" stroke="#55565a" stroke-width="0.7" />
<polygon points="1370.9,853.0 1379.6,853.0 1379.6,860.9 1378.2,862.3 1372.3,862.3 1370.9,860.9" fill="#d2d3d5" stroke="#55565a" stroke-width="0.7" />
<polygon points="1419.4,853.0 1433.5,853.0 1433.5,860.9 1432.1,862.3 1420.8,862.3 1419.4,860.9" fill="#d2d3d5" stroke="#55565a" stroke-width="0.7" />
<polygon points="1506.5,853.0 1520.3,853.0 1520.3,860.9 1518.9,862.3 1507.9,862.3 1506.5,860.9" fill="#d2d3d5" stroke="#55565a" stroke-width="0.7" />
<polygon points="1560.3,853.0 1569.1,853.0 1569.1,860.9 1567.7,862.3 1561.7,862.3 1560.3,860.9" fill="#d2d3d5" stroke="#55565a" stroke-width="0.7" />
<path d="M797 1069H1589.4V885.2H1595.2V1075.2H797Z" fill="#fff" stroke="#9d9fa2" stroke-width=".8"/>
<path d="M796 1066.5H1587V885.2" fill="none" stroke="#9d9fa2" stroke-width=".7"/>
<path d="M795.4 1115.3H1637V884" fill="none" stroke="#b4b4b4" stroke-width=".9"/>
<path d="M736.6 335.3A72.7 72.7 0 0 1 757.4 386.3" fill="none" stroke="#bdbdbd" stroke-width=".8" stroke-dasharray="4 2.4"/>
<polygon points="685.9,387.4 737.7,336.4 735.5,334.2 683.7,385.2" fill="#fff" stroke="#77787b" stroke-width="0.8" />
<path d="M1363.9 433.0A73.5 73.5 0 0 0 1312.0 412.5" fill="none" stroke="#bdbdbd" stroke-width=".8" stroke-dasharray="4 2.4"/>
<polygon points="1312.4,485.5 1364.9,434.1 1362.9,431.9 1310.4,483.3" fill="#fff" stroke="#77787b" stroke-width="0.8" />
<path d="M705.3 575.2A72.5 72.5 0 0 1 684.8 524.7" fill="none" stroke="#bdbdbd" stroke-width=".8" stroke-dasharray="4 2.4"/>
<polygon points="755.5,522.8 704.2,574.1 706.4,576.3 757.7,525.0" fill="#fff" stroke="#77787b" stroke-width="0.8" />
<path d="M1182.9 910.1A72.5 72.5 0 0 1 1161.6 862.6" fill="none" stroke="#bdbdbd" stroke-width=".8" stroke-dasharray="4 2.4"/>
<polygon points="1233.1,857.7 1181.8,909.0 1184.0,911.2 1235.3,859.9" fill="#fff" stroke="#77787b" stroke-width="0.8" />
<path d="M1454.5 910.3A72.2 72.2 0 0 1 1432.7 862.7" fill="none" stroke="#bdbdbd" stroke-width=".8" stroke-dasharray="4 2.4"/>
<polygon points="1504.2,857.9 1453.4,909.2 1455.6,911.4 1506.4,860.1" fill="#fff" stroke="#77787b" stroke-width="0.8" />
<g transform="translate(1151.3 199.5) scale(1 1)" fill="#fff" stroke="#97989b" stroke-width=".75"><path d="M13.9 .5L30.8 2.1V31.9L13.9 33.5Z" stroke="none"/><path d="M13.9 .5L30.8 2.1M13.9 33.5L30.8 31.9" fill="none"/><path d="M1.8 0H12.2Q13.9 0 13.9 1.8Q14.6 17 13.9 32.2Q13.9 34 12.2 34H1.8Q0 34 0 32.2V1.8Q0 0 1.8 0Z"/><path d="M19.8 9.5C19.2 6.5 20.5 3.6 25 2.9C30 2.1 36 2.1 40 2.6C50 4 56.5 10 56.5 17C56.5 24 50 30 40 31.4C36 31.9 30 31.9 25 31.1C20.5 30.4 19.2 27.5 19.8 24.5C20.6 22 20.6 12 19.8 9.5Z"/></g>
<g transform="translate(1114.0 329.5) scale(-1 1)" fill="#fff" stroke="#97989b" stroke-width=".75"><path d="M13.9 .5L30.8 2.1V31.9L13.9 33.5Z" stroke="none"/><path d="M13.9 .5L30.8 2.1M13.9 33.5L30.8 31.9" fill="none"/><path d="M1.8 0H12.2Q13.9 0 13.9 1.8Q14.6 17 13.9 32.2Q13.9 34 12.2 34H1.8Q0 34 0 32.2V1.8Q0 0 1.8 0Z"/><path d="M19.8 9.5C19.2 6.5 20.5 3.6 25 2.9C30 2.1 36 2.1 40 2.6C50 4 56.5 10 56.5 17C56.5 24 50 30 40 31.4C36 31.9 30 31.9 25 31.1C20.5 30.4 19.2 27.5 19.8 24.5C20.6 22 20.6 12 19.8 9.5Z"/></g>
<g transform="translate(454.2 539.0) scale(1 1)" fill="#fff" stroke="#97989b" stroke-width=".75"><path d="M13.9 .5L30.8 2.1V31.9L13.9 33.5Z" stroke="none"/><path d="M13.9 .5L30.8 2.1M13.9 33.5L30.8 31.9" fill="none"/><path d="M1.8 0H12.2Q13.9 0 13.9 1.8Q14.6 17 13.9 32.2Q13.9 34 12.2 34H1.8Q0 34 0 32.2V1.8Q0 0 1.8 0Z"/><path d="M19.8 9.5C19.2 6.5 20.5 3.6 25 2.9C30 2.1 36 2.1 40 2.6C50 4 56.5 10 56.5 17C56.5 24 50 30 40 31.4C36 31.9 30 31.9 25 31.1C20.5 30.4 19.2 27.5 19.8 24.5C20.6 22 20.6 12 19.8 9.5Z"/></g>
<g transform="translate(271.6 523.6) scale(1 1)" fill="#fff" stroke="#97989b" stroke-width=".75"><path d="M13.9 .5L30.8 2.1V31.9L13.9 33.5Z" stroke="none"/><path d="M13.9 .5L30.8 2.1M13.9 33.5L30.8 31.9" fill="none"/><path d="M1.8 0H12.2Q13.9 0 13.9 1.8Q14.6 17 13.9 32.2Q13.9 34 12.2 34H1.8Q0 34 0 32.2V1.8Q0 0 1.8 0Z"/><path d="M19.8 9.5C19.2 6.5 20.5 3.6 25 2.9C30 2.1 36 2.1 40 2.6C50 4 56.5 10 56.5 17C56.5 24 50 30 40 31.4C36 31.9 30 31.9 25 31.1C20.5 30.4 19.2 27.5 19.8 24.5C20.6 22 20.6 12 19.8 9.5Z"/></g>
<rect x="1070.8" y="249.0" width="43.8" height="60.5" fill="#fff" stroke="#9d9fa2" stroke-width="0.8" />
<line x1="1082.3" y1="249.0" x2="1115.0" y2="249.0" stroke="#55565a" stroke-width="0.9" />
<line x1="1114.6" y1="249.0" x2="1114.6" y2="309.5" stroke="#55565a" stroke-width="0.9" />
<rect x="1078.3" y="263.5" width="24.0" height="31.8" rx="1.8" fill="#fff" stroke="#97989b" stroke-width="0.75" />
<path d="M1108.20 265.60L1108.75 261.20H1109.65L1110.20 265.60" fill="#fff" stroke="#97989b" stroke-width=".7"/>
<circle cx="1109.2" cy="268.2" r="2.8" fill="#fff" stroke="#97989b" stroke-width="0.7"/>
<path d="M1106.67 278.30H1096.70A1.2 1.2 0 0 0 1096.70 280.70H1106.67A2.8 2.8 0 1 0 1106.67 278.30Z" fill="#fff" stroke="#97989b" stroke-width=".7"/>
<path d="M1108.20 291.90L1108.75 296.30H1109.65L1110.20 291.90" fill="#fff" stroke="#97989b" stroke-width=".7"/>
<circle cx="1109.2" cy="289.3" r="2.8" fill="#fff" stroke="#97989b" stroke-width="0.7"/>
<rect x="1150.4" y="252.7" width="43.8" height="56.8" fill="#fff" stroke="#9d9fa2" stroke-width="0.8" />
<rect x="1162.9" y="265.2" width="23.8" height="31.3" rx="1.8" fill="#fff" stroke="#97989b" stroke-width="0.75" />
<path d="M1155.60 268.20L1156.15 263.80H1157.05L1157.60 268.20" fill="#fff" stroke="#97989b" stroke-width=".7"/>
<circle cx="1156.6" cy="270.8" r="2.8" fill="#fff" stroke="#97989b" stroke-width="0.7"/>
<path d="M1159.13 279.90H1169.10A1.2 1.2 0 0 1 1169.10 282.30H1159.13A2.8 2.8 0 1 1 1159.13 279.90Z" fill="#fff" stroke="#97989b" stroke-width=".7"/>
<path d="M1155.60 294.40L1156.15 298.80H1157.05L1157.60 294.40" fill="#fff" stroke="#97989b" stroke-width=".7"/>
<circle cx="1156.6" cy="291.8" r="2.8" fill="#fff" stroke="#97989b" stroke-width="0.7"/>
<rect x="594.5" y="507.7" width="44.0" height="96.8" fill="#fff"  />
<line x1="594.5" y1="507.7" x2="594.5" y2="604.5" stroke="#9d9fa2" stroke-width="0.8" />
<rect x="601.0" y="536.5" width="26.5" height="39.0" rx="1.8" fill="#fff" stroke="#97989b" stroke-width="0.75" />
<path d="M632.30 542.90L632.85 538.50H633.75L634.30 542.90" fill="#fff" stroke="#97989b" stroke-width=".7"/>
<circle cx="633.3" cy="545.5" r="2.8" fill="#fff" stroke="#97989b" stroke-width="0.7"/>
<path d="M630.77 554.60H620.80A1.2 1.2 0 0 0 620.80 557.00H630.77A2.8 2.8 0 1 0 630.77 554.60Z" fill="#fff" stroke="#97989b" stroke-width=".7"/>
<path d="M632.30 568.60L632.85 573.00H633.75L634.30 568.60" fill="#fff" stroke="#97989b" stroke-width=".7"/>
<circle cx="633.3" cy="566.0" r="2.8" fill="#fff" stroke="#97989b" stroke-width="0.7"/>
<rect x="269.5" y="595.2" width="48.8" height="144.9" fill="#fff" stroke="#9d9fa2" stroke-width="0.8" />
<rect x="283.3" y="609.2" width="29.4" height="43.5" rx="1.8" fill="#fff" stroke="#97989b" stroke-width="0.75" />
<path d="M277.10 618.80L277.65 614.40H278.55L279.10 618.80" fill="#fff" stroke="#97989b" stroke-width=".7"/>
<circle cx="278.1" cy="621.4" r="2.8" fill="#fff" stroke="#97989b" stroke-width="0.7"/>
<path d="M280.63 630.10H290.60A1.2 1.2 0 0 1 290.60 632.50H280.63A2.8 2.8 0 1 1 280.63 630.10Z" fill="#fff" stroke="#97989b" stroke-width=".7"/>
<path d="M277.10 644.00L277.65 648.40H278.55L279.10 644.00" fill="#fff" stroke="#97989b" stroke-width=".7"/>
<circle cx="278.1" cy="641.4" r="2.8" fill="#fff" stroke="#97989b" stroke-width="0.7"/>
<rect x="283.3" y="682.7" width="29.4" height="43.3" rx="1.8" fill="#fff" stroke="#97989b" stroke-width="0.75" />
<path d="M277.10 692.20L277.65 687.80H278.55L279.10 692.20" fill="#fff" stroke="#97989b" stroke-width=".7"/>
<circle cx="278.1" cy="694.8" r="2.8" fill="#fff" stroke="#97989b" stroke-width="0.7"/>
<path d="M280.63 703.50H290.60A1.2 1.2 0 0 1 290.60 705.90H280.63A2.8 2.8 0 1 1 280.63 703.50Z" fill="#fff" stroke="#97989b" stroke-width=".7"/>
<path d="M277.10 717.40L277.65 721.80H278.55L279.10 717.40" fill="#fff" stroke="#97989b" stroke-width=".7"/>
<circle cx="278.1" cy="714.8" r="2.8" fill="#fff" stroke="#97989b" stroke-width="0.7"/>
<line x1="269.5" y1="595.2" x2="269.5" y2="740.1" stroke="#55565a" stroke-width="0.9" />
<line x1="269.5" y1="740.1" x2="318.3" y2="740.1" stroke="#55565a" stroke-width="0.9" />
<line x1="1150.4" y1="252.7" x2="1150.4" y2="309.5" stroke="#55565a" stroke-width="0.9" />
<line x1="638.5" y1="507.7" x2="638.5" y2="604.5" stroke="#55565a" stroke-width="0.9" />
<line x1="594.5" y1="507.7" x2="638.5" y2="507.7" stroke="#55565a" stroke-width="0.9" />
<line x1="594.5" y1="604.5" x2="638.5" y2="604.5" stroke="#55565a" stroke-width="0.9" />
<rect x="960.6" y="180.5" width="121.3" height="64.2" fill="#fff"  />
<line x1="960.2" y1="244.7" x2="1082.3" y2="244.7" stroke="#9d9fa2" stroke-width="0.8" />
<rect x="969.2" y="188.4" width="104.4" height="48.6" rx="9" fill="#fff" stroke="#8f9194" stroke-width="0.8" />
<circle cx="1059.0" cy="212.2" r="6.8" fill="#fff" stroke="#8f9194" stroke-width="0.8"/>
<rect x="1065.8" y="211.2" width="16.5" height="2.2" fill="#fff" stroke="#8f9194" stroke-width=".7"/>
<circle cx="1174.2" cy="349.6" r="6.8" fill="#fff" stroke="#8f9194" stroke-width="0.8"/>
<rect x="1150.4" y="348.5" width="17" height="2.2" fill="#fff" stroke="#8f9194" stroke-width=".7"/>
<circle cx="292.6" cy="453.1" r="7.0" fill="#fff" stroke="#8f9194" stroke-width="0.8"/>
<rect x="269.5" y="452" width="16.1" height="2.2" fill="#fff" stroke="#8f9194" stroke-width=".7"/>
<line x1="1150.4" y1="314.0" x2="1300.6" y2="314.0" stroke="#9d9fa2" stroke-width="1.2" />
<rect x="269.9" y="494.6" width="144.9" height="3.8" fill="#fff"  />
<line x1="269.5" y1="495.2" x2="415.2" y2="495.2" stroke="#9d9fa2" stroke-width="0.8" />
<line x1="269.5" y1="498.0" x2="415.2" y2="498.0" stroke="#9d9fa2" stroke-width="0.8" />
<rect x="432.6" y="422.1" width="60.0" height="55.0" fill="#fff" stroke="#b0b0b0" stroke-width="0.8" />
<rect x="1303.1" y="512.6" width="233.5" height="51.4" fill="#fff"  />
<path d="M1303.1 512.6V564H1536.6M1365.2 512.6V564M1401 512.6V564" fill="none" stroke="#9d9fa2" stroke-width=".8"/>
<line x1="1303.1" y1="512.6" x2="1536.6" y2="512.6" stroke="#55565a" stroke-width="0.9" />
<line x1="1536.6" y1="512.6" x2="1536.6" y2="564.0" stroke="#55565a" stroke-width="0.9" />
<rect x="1536.6" y="564.4" width="48.4" height="278.8" fill="#fff"  />
<line x1="1536.6" y1="564.0" x2="1536.6" y2="843.5" stroke="#9d9fa2" stroke-width="0.8" />
<line x1="1536.6" y1="611.5" x2="1585.4" y2="611.5" stroke="#aeb0b3" stroke-width="0.7" stroke-dasharray="3 2"/>
<line x1="1536.6" y1="793.4" x2="1585.4" y2="793.4" stroke="#aeb0b3" stroke-width="0.7" stroke-dasharray="3 2"/>
<line x1="1536.6" y1="839.4" x2="1585.4" y2="839.4" stroke="#aeb0b3" stroke-width="0.7" stroke-dasharray="3 2"/>
<rect x="1539.8" y="664.5" width="43.8" height="73.8" rx="1.5" fill="#fff" stroke="#8f9194" stroke-width="0.8" />
<circle cx="1553.3" cy="679.3" r="9.2" fill="#fff" stroke="#8f9194" stroke-width="0.7"/>
<circle cx="1572.1" cy="676.3" r="5.0" fill="#fff" stroke="#8f9194" stroke-width="0.7"/>
<circle cx="1570.8" cy="693.0" r="7.2" fill="#fff" stroke="#8f9194" stroke-width="0.7"/>
<circle cx="1551.6" cy="700.0" r="7.2" fill="#fff" stroke="#8f9194" stroke-width="0.7"/>
<circle cx="1567.8" cy="715.0" r="10.5" fill="#fff" stroke="#8f9194" stroke-width="0.7"/>
<rect x="1541.6" y="721.3" width="4.2" height="4.5" fill="#fff" stroke="#8f9194" stroke-width="0.7" />
<circle cx="1543.6" cy="733.1" r="1.9" fill="#e6e6e6" stroke="#8f9194" stroke-width="0.6"/>
<circle cx="1549.6" cy="733.1" r="1.9" fill="#e6e6e6" stroke="#8f9194" stroke-width="0.6"/>
<circle cx="1555.3" cy="733.1" r="1.9" fill="#e6e6e6" stroke="#8f9194" stroke-width="0.6"/>
<circle cx="1561.1" cy="733.1" r="1.9" fill="#e6e6e6" stroke="#8f9194" stroke-width="0.6"/>
<circle cx="1567.1" cy="733.1" r="1.9" fill="#e6e6e6" stroke="#8f9194" stroke-width="0.6"/>
<path d="M1537.3 673H1532.6V731.3H1537.3M1535 675.5V729" fill="none" stroke="#8f9194" stroke-width=".7"/>
<rect x="1281.3" y="652.4" width="89.9" height="191.1" fill="#fff" stroke="#9d9fa2" stroke-width="0.8" />
<path d="M1371.2 655.5H1327.1V699.6H1371.2" fill="none" stroke="#aeb0b3" stroke-width=".7" stroke-dasharray="3 2"/>
<rect x="1330.9" y="713.3" width="32.5" height="57.3" rx="1.5" fill="#fff" stroke="#8f9194" stroke-width="0.8" />
<path d="M1345.6 740.2H1326.2Q1324.6 740.2 1324.6 741.8V749.4H1328.4V743.6H1345.6Q1347 741.9 1345.6 740.2Z" fill="#fff" stroke="#8f9194" stroke-width=".7"/>
<rect x="1298.1" y="843.5" width="72.8" height="40.5" fill="#d2d3d5" stroke="#55565a" stroke-width="0.9" />
<rect x="1328.5" y="883.4" width="12.0" height="1.4" fill="#fff"  />
<path d="M1328.5 884L1329.5 881.6H1339.5L1340.5 884" fill="none" stroke="#55565a" stroke-width=".8"/>
<polygon points="539.7,188.4 559.1,188.4 549.4,205.2" fill="#111"  />
<text class="sf" x="695.8" y="236.0" font-size="21.4" textLength="110.4" lengthAdjust="spacingAndGlyphs" >BEDROOM 3</text>
<text class="ss" x="681.5" y="262.7" font-size="17.6" textLength="138.9" lengthAdjust="spacingAndGlyphs" stroke="#111" stroke-width=".3">11’ - 7” X 12 - 0”</text>
<text class="sf" x="438.3" y="316.5" font-size="21.4" textLength="24.3" lengthAdjust="spacingAndGlyphs" >CL</text>
<text class="sf" x="508.9" y="316.5" font-size="21.4" textLength="64.5" lengthAdjust="spacingAndGlyphs" >FOYER</text>
<text class="sf" x="911.4" y="242.2" font-size="21.4" textLength="24.5" lengthAdjust="spacingAndGlyphs" >CL</text>
<text class="sf" x="1405.7" y="312.0" font-size="21.4" textLength="111.3" lengthAdjust="spacingAndGlyphs" >BEDROOM 2</text>
<text class="ss" x="1392.2" y="337.7" font-size="17.6" textLength="138.6" lengthAdjust="spacingAndGlyphs" stroke="#111" stroke-width=".3">12’ - 2” X 10’ - 11”</text>
<text class="sf" x="1486.0" y="487.6" font-size="21.4" textLength="24.3" lengthAdjust="spacingAndGlyphs" >CL</text>
<text class="sf" x="444.6" y="457.6" font-size="21.4" textLength="38.0" lengthAdjust="spacingAndGlyphs" >W/D</text>
<text class="sf" x="510.2" y="640.2" font-size="21.4" textLength="24.5" lengthAdjust="spacingAndGlyphs" >CL</text>
<text class="sf" x="612.1" y="687.6" font-size="21.4" textLength="24.5" lengthAdjust="spacingAndGlyphs" >CL</text>
<text class="sf" x="937.3" y="617.8" font-size="21.4" textLength="210.1" lengthAdjust="spacingAndGlyphs" >LIVING/DINING ROOM</text>
<text class="ss" x="965.3" y="644.1" font-size="17.6" textLength="155.1" lengthAdjust="spacingAndGlyphs" stroke="#111" stroke-width=".3">21’ - 0” X 18’ - 5”</text>
<text class="sf" x="1409.4" y="714.6" font-size="21.4" textLength="88.4" lengthAdjust="spacingAndGlyphs" >KITCHEN</text>
<text class="sf" x="520.8" y="912.6" font-size="21.4" textLength="192.0" lengthAdjust="spacingAndGlyphs" >PRIMARY BEDROOM</text>
<text class="ss" x="547.6" y="939.4" font-size="17.6" textLength="138.9" lengthAdjust="spacingAndGlyphs" stroke="#111" stroke-width=".3">11’ - 8” X 13’ - 9”</text>
<text class="sf" x="1136.6" y="971.9" font-size="21.4" textLength="91.3" lengthAdjust="spacingAndGlyphs" >TERRACE</text>
<text class="ss" x="1108.6" y="998.2" font-size="17.6" textLength="148.1" lengthAdjust="spacingAndGlyphs" stroke="#111" stroke-width=".3">32’ - 7” X 8’ - 5”</text>
<text class="ss" x="1333.9" y="545.2" font-size="17.4" text-anchor="middle" >R</text>
<text class="ss" x="1383.4" y="545.2" font-size="17.4" text-anchor="middle" >F</text>
<text class="ss" x="1546.6" y="596.0" font-size="17.4" textLength="28.8" lengthAdjust="spacingAndGlyphs" >WR</text>
<text class="ss" x="1334.0" y="684.6" font-size="17.4" textLength="30.2" lengthAdjust="spacingAndGlyphs" >DW</text>
<text class="ss" x="1547.8" y="824.4" font-size="17.4" textLength="26.8" lengthAdjust="spacingAndGlyphs" >SO</text>
<text class="sf" x="145.5" y="70.1" font-size="17" textLength="34.2" lengthAdjust="spacingAndGlyphs" font-weight="bold" >THE</text>
<text class="sf" transform="translate(58.9 115.7) scale(0.93 1)" font-size="49.7" textLength="223.2" lengthAdjust="spacing" stroke="#111" stroke-width="1.2" stroke-linejoin="round">WILLOW</text>
<text class="sf" x="117.2" y="140.0" font-size="18.5" textLength="89.5" lengthAdjust="spacingAndGlyphs" font-weight="bold" >GRAMERCY</text>
<text class="sf" x="53.1" y="904.4" font-size="113" textLength="154.0" lengthAdjust="spacingAndGlyphs" font-style="italic" stroke="#111" stroke-width="1.3">15C</text>
<text class="sf" x="57.8" y="982.8" font-size="23.2" textLength="139.7" lengthAdjust="spacingAndGlyphs" >3 BEDROOMS</text>
<text class="sf" x="57.8" y="1018.3" font-size="23.2" textLength="156.9" lengthAdjust="spacingAndGlyphs" >3 BATHROOMS</text>
<text class="sf" x="57.7" y="1054.4" font-size="23.2" textLength="180.7" lengthAdjust="spacingAndGlyphs" >1 POWDER ROOM</text>
<text class="sf" x="57.7" y="1100.9" font-size="23.2" textLength="160.2" lengthAdjust="spacingAndGlyphs" >1,794 INT SQ FT</text>
<text class="sf" x="57.7" y="1136.3" font-size="23.2" textLength="150.9" lengthAdjust="spacingAndGlyphs" >361 EXT SQ FT</text>
<text class="ss" x="57.7" y="1198.2" font-size="14.4" textLength="1429.5" lengthAdjust="spacingAndGlyphs" xml:space="preserve">The complete offering terms are in an offering plan available from the Sponsor. File No. C24-0002.   All dimensions are approximate and subject to normal construction variances and tolerances. Square footage exceeds</text>
<text class="ss" x="57.7" y="1217.0" font-size="14.4" textLength="1410.3" lengthAdjust="spacingAndGlyphs" xml:space="preserve">the usable floor area. Sponsor reserves the right to make changes in accordance with the terms of the Offering Plan. Plans and dimensions may contain minor variations from floor to floor.  Equal Housing Opportunity.</text>
<text class="ss" x="1626.1" y="1192.4" font-size="17.5" textLength="286.0" lengthAdjust="spacingAndGlyphs" stroke="#111" stroke-width=".5">201 E 23rd St New York, NY 10010</text>
<text class="ss" x="1709.6" y="1216.9" font-size="17.5" textLength="202.9" lengthAdjust="spacingAndGlyphs" stroke="#111" stroke-width=".5">thewillow-gramercy.com</text>
<polygon points="1910.9,986.4 1847.1,986.4 1847.1,978.4 1831.6,978.4 1831.6,982.1 1819.1,982.1 1819.1,993.4 1801.1,993.4 1801.1,1009.4 1787.1,1009.4 1787.1,1039.7 1803.3,1039.7 1803.3,1045.7 1807.1,1045.7 1807.1,1072.2 1910.9,1072.2" fill="#a7a9ac"  />
<rect x="1835.9" y="1051.4" width="75.0" height="20.8" fill="#d1d3d4" stroke="#fff" stroke-width="0.8" />
<rect x="1704.0" y="916.3" width="206.9" height="155.9" fill="none" stroke="#222" stroke-width="1.1" />
<circle cx="1808.6" cy="885.8" r="15.9" fill="#a7a9ac" stroke="none" stroke-width="0"/>
<line x1="1808.6" y1="885.8" x2="1802.2" y2="871.8" stroke="#fff" stroke-width="2.2" stroke-linecap="round"/>
<text class="ss" x="1808.6" y="866.8" font-size="12.2" text-anchor="middle" >N</text>
<text class="ss" x="1760.6" y="1103.6" font-size="15.9" textLength="97.5" lengthAdjust="spacing" stroke="#111" stroke-width=".4">E 23RD ST</text>
<text class="ss" transform="translate(1690.0 1034.5) rotate(-90)" font-size="17.9" textLength="79.4" lengthAdjust="spacing" stroke="#111" stroke-width=".4">3RD AVE</text>
<g fill="none" stroke="#000" stroke-linecap="round"><path d="M1770.7 105.4L1771.2 104.7" stroke-width="7.18"/><path d="M1771.2 104.7L1771.8 103.8" stroke-width="7.14"/><path d="M1771.8 103.8L1772.5 102.7" stroke-width="7.09"/><path d="M1772.5 102.7L1773.3 101.5" stroke-width="7.05"/><path d="M1773.3 101.5L1774.1 100.3" stroke-width="7.01"/><path d="M1774.1 100.3L1775.0 98.9" stroke-width="6.96"/><path d="M1775.0 98.9L1776.0 97.5" stroke-width="6.92"/><path d="M1776.0 97.5L1777.0 96.0" stroke-width="6.88"/><path d="M1777.0 96.0L1778.0 94.5" stroke-width="6.84"/><path d="M1778.0 94.5L1779.0 93.1" stroke-width="6.79"/><path d="M1779.0 93.1L1780.1 91.6" stroke-width="6.75"/><path d="M1780.1 91.6L1781.2 90.2" stroke-width="6.71"/><path d="M1781.2 90.2L1782.3 88.9" stroke-width="6.66"/><path d="M1782.3 88.9L1783.3 87.7" stroke-width="6.62"/><path d="M1783.3 87.7L1784.4 86.5" stroke-width="6.55"/><path d="M1784.4 86.5L1785.5 85.4" stroke-width="6.45"/><path d="M1785.5 85.4L1786.7 84.2" stroke-width="6.35"/><path d="M1786.7 84.2L1787.8 83.1" stroke-width="6.25"/><path d="M1787.8 83.1L1789.1 82.0" stroke-width="6.15"/><path d="M1789.1 82.0L1790.3 80.8" stroke-width="6.05"/><path d="M1790.3 80.8L1791.5 79.7" stroke-width="5.95"/><path d="M1791.5 79.7L1792.8 78.7" stroke-width="5.85"/><path d="M1792.8 78.7L1794.0 77.6" stroke-width="5.75"/><path d="M1794.0 77.6L1795.3 76.6" stroke-width="5.65"/><path d="M1795.3 76.6L1796.5 75.6" stroke-width="5.55"/><path d="M1796.5 75.6L1797.8 74.7" stroke-width="5.45"/><path d="M1797.8 74.7L1799.0 73.7" stroke-width="5.35"/><path d="M1799.0 73.7L1800.2 72.8" stroke-width="5.25"/><path d="M1800.2 72.8L1801.4 72.0" stroke-width="5.16"/><path d="M1801.4 72.0L1802.7 71.2" stroke-width="5.07"/><path d="M1802.7 71.2L1803.9 70.4" stroke-width="4.99"/><path d="M1803.9 70.4L1805.2 69.6" stroke-width="4.90"/><path d="M1805.2 69.6L1806.5 68.9" stroke-width="4.81"/><path d="M1806.5 68.9L1807.7 68.2" stroke-width="4.73"/><path d="M1807.7 68.2L1809.0 67.5" stroke-width="4.64"/><path d="M1809.0 67.5L1810.3 66.9" stroke-width="4.56"/><path d="M1810.3 66.9L1811.5 66.3" stroke-width="4.47"/><path d="M1811.5 66.3L1812.7 65.7" stroke-width="4.39"/><path d="M1812.7 65.7L1813.8 65.1" stroke-width="4.30"/><path d="M1813.8 65.1L1815.0 64.6" stroke-width="4.21"/><path d="M1815.0 64.6L1816.0 64.1" stroke-width="4.13"/><path d="M1816.0 64.1L1817.1 63.6" stroke-width="4.04"/><path d="M1817.1 63.6L1818.0 63.1" stroke-width="3.95"/><path d="M1818.0 63.1L1819.0 62.7" stroke-width="3.85"/><path d="M1819.0 62.7L1819.9 62.2" stroke-width="3.75"/><path d="M1819.9 62.2L1820.8 61.8" stroke-width="3.65"/><path d="M1820.8 61.8L1821.6 61.5" stroke-width="3.55"/><path d="M1821.6 61.5L1822.4 61.1" stroke-width="3.45"/><path d="M1822.4 61.1L1823.2 60.8" stroke-width="3.35"/><path d="M1823.2 60.8L1824.0 60.5" stroke-width="3.25"/><path d="M1824.0 60.5L1824.7 60.2" stroke-width="3.15"/><path d="M1824.7 60.2L1825.4 60.0" stroke-width="3.05"/><path d="M1825.4 60.0L1826.1 59.8" stroke-width="2.95"/><path d="M1826.1 59.8L1826.8 59.6" stroke-width="2.85"/><path d="M1826.8 59.6L1827.4 59.5" stroke-width="2.75"/><path d="M1827.4 59.5L1828.0 59.4" stroke-width="2.65"/><path d="M1828.0 59.4L1828.6 59.3" stroke-width="2.56"/><path d="M1828.6 59.3L1829.2 59.2" stroke-width="2.49"/><path d="M1829.2 59.2L1829.8 59.2" stroke-width="2.42"/><path d="M1829.8 59.2L1830.3 59.2" stroke-width="2.35"/><path d="M1830.3 59.2L1830.9 59.2" stroke-width="2.28"/><path d="M1830.9 59.2L1831.4 59.3" stroke-width="2.21"/><path d="M1831.4 59.3L1831.8 59.4" stroke-width="2.14"/><path d="M1831.8 59.4L1832.3 59.5" stroke-width="2.06"/><path d="M1832.3 59.5L1832.7 59.7" stroke-width="1.99"/><path d="M1832.7 59.7L1833.0 59.9" stroke-width="1.92"/><path d="M1833.0 59.9L1833.3 60.1" stroke-width="1.85"/><path d="M1833.3 60.1L1833.6 60.4" stroke-width="1.78"/><path d="M1833.6 60.4L1833.8 60.7" stroke-width="1.71"/><path d="M1833.8 60.7L1833.9 61.0" stroke-width="1.64"/><path d="M1833.9 61.0L1834.0 61.4" stroke-width="1.60"/><path d="M1834.0 61.4L1834.1 61.9" stroke-width="1.61"/><path d="M1834.1 61.9L1834.1 62.3" stroke-width="1.62"/><path d="M1834.1 62.3L1834.1 62.8" stroke-width="1.62"/><path d="M1834.1 62.8L1834.1 63.3" stroke-width="1.63"/><path d="M1834.1 63.3L1834.0 63.8" stroke-width="1.64"/><path d="M1834.0 63.8L1833.9 64.4" stroke-width="1.65"/><path d="M1833.9 64.4L1833.7 65.0" stroke-width="1.65"/><path d="M1833.7 65.0L1833.5 65.7" stroke-width="1.66"/><path d="M1833.5 65.7L1833.2 66.5" stroke-width="1.67"/><path d="M1833.2 66.5L1832.8 67.2" stroke-width="1.68"/><path d="M1832.8 67.2L1832.4 68.1" stroke-width="1.68"/><path d="M1832.4 68.1L1831.9 69.0" stroke-width="1.69"/><path d="M1831.9 69.0L1831.4 70.0" stroke-width="1.70"/><path d="M1831.4 70.0L1830.8 71.1" stroke-width="1.73"/><path d="M1830.8 71.1L1830.0 72.2" stroke-width="1.77"/><path d="M1830.0 72.2L1829.2 73.5" stroke-width="1.82"/><path d="M1829.2 73.5L1828.3 74.8" stroke-width="1.88"/><path d="M1828.3 74.8L1827.3 76.2" stroke-width="1.92"/><path d="M1827.3 76.2L1826.3 77.7" stroke-width="1.98"/><path d="M1826.3 77.7L1825.2 79.2" stroke-width="2.02"/><path d="M1825.2 79.2L1824.1 80.7" stroke-width="2.08"/><path d="M1824.1 80.7L1823.1 82.2" stroke-width="2.12"/><path d="M1823.1 82.2L1822.0 83.7" stroke-width="2.17"/><path d="M1822.0 83.7L1820.9 85.2" stroke-width="2.23"/><path d="M1820.9 85.2L1819.8 86.6" stroke-width="2.27"/><path d="M1819.8 86.6L1818.8 88.0" stroke-width="2.33"/><path d="M1818.8 88.0L1817.9 89.4" stroke-width="2.38"/><path d="M1817.9 89.4L1817.0 90.7" stroke-width="2.45"/><path d="M1817.0 90.7L1816.1 91.9" stroke-width="2.55"/><path d="M1816.1 91.9L1815.2 93.2" stroke-width="2.65"/><path d="M1815.2 93.2L1814.3 94.4" stroke-width="2.75"/><path d="M1814.3 94.4L1813.4 95.7" stroke-width="2.85"/><path d="M1813.4 95.7L1812.6 96.9" stroke-width="2.95"/><path d="M1812.6 96.9L1811.7 98.1" stroke-width="3.05"/><path d="M1811.7 98.1L1810.8 99.3" stroke-width="3.15"/><path d="M1810.8 99.3L1810.0 100.4" stroke-width="3.25"/><path d="M1810.0 100.4L1809.2 101.6" stroke-width="3.35"/><path d="M1809.2 101.6L1808.4 102.8" stroke-width="3.45"/><path d="M1808.4 102.8L1807.6 103.9" stroke-width="3.55"/><path d="M1807.6 103.9L1806.8 105.1" stroke-width="3.65"/><path d="M1806.8 105.1L1806.1 106.2" stroke-width="3.75"/><path d="M1806.1 106.2L1805.4 107.4" stroke-width="3.86"/><path d="M1805.4 107.4L1804.7 108.5" stroke-width="3.97"/><path d="M1804.7 108.5L1804.0 109.7" stroke-width="4.09"/><path d="M1804.0 109.7L1803.4 110.8" stroke-width="4.20"/><path d="M1803.4 110.8L1802.7 111.9" stroke-width="4.31"/><path d="M1802.7 111.9L1802.1 113.0" stroke-width="4.43"/><path d="M1802.1 113.0L1801.5 114.1" stroke-width="4.54"/><path d="M1801.5 114.1L1800.9 115.2" stroke-width="4.66"/><path d="M1800.9 115.2L1800.3 116.3" stroke-width="4.77"/><path d="M1800.3 116.3L1799.7 117.4" stroke-width="4.89"/><path d="M1799.7 117.4L1799.2 118.4" stroke-width="5.00"/><path d="M1799.2 118.4L1798.7 119.4" stroke-width="5.11"/><path d="M1798.7 119.4L1798.2 120.4" stroke-width="5.23"/><path d="M1798.2 120.4L1797.7 121.4" stroke-width="5.34"/><path d="M1797.7 121.4L1797.2 122.4" stroke-width="5.44"/><path d="M1797.2 122.4L1796.7 123.3" stroke-width="5.51"/><path d="M1796.7 123.3L1796.3 124.2" stroke-width="5.58"/><path d="M1796.3 124.2L1795.8 125.1" stroke-width="5.65"/><path d="M1795.8 125.1L1795.4 126.0" stroke-width="5.72"/><path d="M1795.4 126.0L1794.9 126.9" stroke-width="5.79"/><path d="M1794.9 126.9L1794.5 127.8" stroke-width="5.86"/><path d="M1794.5 127.8L1794.2 128.6" stroke-width="5.94"/><path d="M1794.2 128.6L1793.8 129.4" stroke-width="6.01"/><path d="M1793.8 129.4L1793.5 130.2" stroke-width="6.08"/><path d="M1793.5 130.2L1793.2 131.0" stroke-width="6.15"/><path d="M1793.2 131.0L1793.0 131.8" stroke-width="6.22"/><path d="M1793.0 131.8L1792.8 132.5" stroke-width="6.29"/><path d="M1792.8 132.5L1792.6 133.2" stroke-width="6.36"/><path d="M1792.6 133.2L1792.5 133.9" stroke-width="6.38"/><path d="M1792.5 133.9L1792.5 134.6" stroke-width="6.34"/><path d="M1792.5 134.6L1792.5 135.3" stroke-width="6.29"/><path d="M1792.5 135.3L1792.5 136.0" stroke-width="6.25"/><path d="M1792.5 136.0L1792.6 136.7" stroke-width="6.21"/><path d="M1792.6 136.7L1792.7 137.4" stroke-width="6.16"/><path d="M1792.7 137.4L1792.9 138.0" stroke-width="6.12"/><path d="M1792.9 138.0L1793.0 138.6" stroke-width="6.08"/><path d="M1793.0 138.6L1793.2 139.2" stroke-width="6.04"/><path d="M1793.2 139.2L1793.4 139.7" stroke-width="5.99"/><path d="M1793.4 139.7L1793.5 140.2" stroke-width="5.95"/><path d="M1793.5 140.2L1793.6 140.6" stroke-width="5.91"/><path d="M1793.6 140.6L1793.7 141.0" stroke-width="5.86"/><path d="M1793.7 141.0L1793.8 141.3" stroke-width="5.82"/><path d="M1793.8 141.3L1794.9 140.1" stroke-width="4.38"/><path d="M1794.9 140.1L1796.4 138.5" stroke-width="4.14"/><path d="M1796.4 138.5L1798.2 136.7" stroke-width="3.91"/><path d="M1798.2 136.7L1800.2 134.6" stroke-width="3.67"/><path d="M1800.2 134.6L1802.3 132.4" stroke-width="3.43"/><path d="M1802.3 132.4L1804.4 130.1" stroke-width="3.19"/><path d="M1804.4 130.1L1806.6 127.8" stroke-width="2.96"/><path d="M1806.6 127.8L1808.6 125.6" stroke-width="2.72"/><path d="M1808.6 125.6L1810.7 123.5" stroke-width="2.58"/><path d="M1810.7 123.5L1812.8 121.4" stroke-width="2.53"/><path d="M1812.8 121.4L1815.0 119.3" stroke-width="2.48"/><path d="M1815.0 119.3L1817.2 117.1" stroke-width="2.43"/><path d="M1817.2 117.1L1819.3 114.8" stroke-width="2.38"/><path d="M1819.3 114.8L1821.5 112.6" stroke-width="2.33"/><path d="M1821.5 112.6L1823.5 110.3" stroke-width="2.28"/><path d="M1823.5 110.3L1825.5 107.9" stroke-width="2.23"/><path d="M1825.5 107.9L1827.4 105.5" stroke-width="2.21"/><path d="M1827.4 105.5L1829.2 103.0" stroke-width="2.24"/><path d="M1829.2 103.0L1830.9 100.4" stroke-width="2.26"/><path d="M1830.9 100.4L1832.6 97.9" stroke-width="2.29"/><path d="M1832.6 97.9L1834.3 95.3" stroke-width="2.31"/><path d="M1834.3 95.3L1835.9 92.7" stroke-width="2.34"/><path d="M1835.9 92.7L1837.4 90.2" stroke-width="2.36"/><path d="M1837.4 90.2L1839.0 87.7" stroke-width="2.39"/><path d="M1839.0 87.7L1840.6 85.2" stroke-width="2.38"/><path d="M1840.6 85.2L1842.2 82.5" stroke-width="2.33"/><path d="M1842.2 82.5L1843.8 79.8" stroke-width="2.27"/><path d="M1843.8 79.8L1845.3 77.2" stroke-width="2.23"/><path d="M1845.3 77.2L1846.8 74.7" stroke-width="2.17"/><path d="M1846.8 74.7L1848.0 72.4" stroke-width="2.12"/><path d="M1848.0 72.4L1849.1 70.6" stroke-width="2.08"/><path d="M1849.1 70.6L1849.9 69.1" stroke-width="2.02"/><path d="M1849.9 69.1L1849.0 70.8" stroke-width="1.39"/><path d="M1849.0 70.8L1847.6 73.0" stroke-width="1.36"/><path d="M1847.6 73.0L1846.0 75.7" stroke-width="1.34"/><path d="M1846.0 75.7L1844.3 78.6" stroke-width="1.31"/><path d="M1844.3 78.6L1842.4 81.8" stroke-width="1.29"/><path d="M1842.4 81.8L1840.6 84.9" stroke-width="1.26"/><path d="M1840.6 84.9L1838.8 88.1" stroke-width="1.24"/><path d="M1838.8 88.1L1837.3 91.1" stroke-width="1.21"/><path d="M1837.3 91.1L1835.9 94.0" stroke-width="1.20"/><path d="M1835.9 94.0L1834.4 97.0" stroke-width="1.20"/><path d="M1834.4 97.0L1833.0 100.2" stroke-width="1.20"/><path d="M1833.0 100.2L1831.6 103.3" stroke-width="1.20"/><path d="M1831.6 103.3L1830.3 106.4" stroke-width="1.20"/><path d="M1830.3 106.4L1829.1 109.3" stroke-width="1.20"/><path d="M1829.1 109.3L1828.1 112.1" stroke-width="1.20"/><path d="M1828.1 112.1L1827.2 114.7" stroke-width="1.20"/><path d="M1827.2 114.7L1826.5 117.0" stroke-width="1.21"/><path d="M1826.5 117.0L1825.9 119.2" stroke-width="1.22"/><path d="M1825.9 119.2L1825.4 121.2" stroke-width="1.23"/><path d="M1825.4 121.2L1825.1 123.2" stroke-width="1.24"/><path d="M1825.1 123.2L1824.8 125.0" stroke-width="1.26"/><path d="M1824.8 125.0L1824.7 126.7" stroke-width="1.27"/><path d="M1824.7 126.7L1824.6 128.3" stroke-width="1.28"/><path d="M1824.6 128.3L1824.7 129.8" stroke-width="1.29"/><path d="M1824.7 129.8L1824.8 131.4" stroke-width="1.31"/><path d="M1824.8 131.4L1825.0 132.8" stroke-width="1.34"/><path d="M1825.0 132.8L1825.3 134.2" stroke-width="1.36"/><path d="M1825.3 134.2L1825.7 135.5" stroke-width="1.39"/><path d="M1825.7 135.5L1826.2 136.7" stroke-width="1.41"/><path d="M1826.2 136.7L1826.7 137.7" stroke-width="1.44"/><path d="M1826.7 137.7L1827.4 138.5" stroke-width="1.46"/><path d="M1827.4 138.5L1828.0 139.1" stroke-width="1.49"/><path d="M1828.0 139.1L1828.8 139.4" stroke-width="1.54"/><path d="M1828.8 139.4L1829.8 139.4" stroke-width="1.63"/><path d="M1829.8 139.4L1830.9 139.2" stroke-width="1.72"/><path d="M1830.9 139.2L1832.0 138.9" stroke-width="1.81"/><path d="M1832.0 138.9L1833.1 138.4" stroke-width="1.89"/><path d="M1833.1 138.4L1834.2 138.0" stroke-width="1.98"/><path d="M1834.2 138.0L1835.0 137.6" stroke-width="2.07"/><path d="M1835.0 137.6L1835.6 137.4" stroke-width="2.16"/><path d="M1835.6 137.4L1836.1 136.9" stroke-width="2.45"/><path d="M1836.1 136.9L1836.7 136.3" stroke-width="2.55"/><path d="M1836.7 136.3L1837.4 135.7" stroke-width="2.65"/><path d="M1837.4 135.7L1838.1 134.9" stroke-width="2.75"/><path d="M1838.1 134.9L1839.0 134.1" stroke-width="2.85"/><path d="M1839.0 134.1L1839.8 133.2" stroke-width="2.95"/><path d="M1839.8 133.2L1840.8 132.3" stroke-width="3.05"/><path d="M1840.8 132.3L1841.7 131.3" stroke-width="3.15"/><path d="M1841.7 131.3L1842.7 130.3" stroke-width="3.25"/><path d="M1842.7 130.3L1843.7 129.2" stroke-width="3.35"/><path d="M1843.7 129.2L1844.7 128.1" stroke-width="3.45"/><path d="M1844.7 128.1L1845.6 127.0" stroke-width="3.55"/><path d="M1845.6 127.0L1846.5 125.9" stroke-width="3.65"/><path d="M1846.5 125.9L1847.4 124.8" stroke-width="3.75"/><path d="M1847.4 124.8L1848.3 123.6" stroke-width="3.82"/><path d="M1848.3 123.6L1849.1 122.5" stroke-width="3.86"/><path d="M1849.1 122.5L1849.9 121.2" stroke-width="3.91"/><path d="M1849.9 121.2L1850.8 120.0" stroke-width="3.95"/><path d="M1850.8 120.0L1851.6 118.7" stroke-width="3.99"/><path d="M1851.6 118.7L1852.5 117.3" stroke-width="4.04"/><path d="M1852.5 117.3L1853.3 116.0" stroke-width="4.08"/><path d="M1853.3 116.0L1854.2 114.6" stroke-width="4.12"/><path d="M1854.2 114.6L1855.0 113.2" stroke-width="4.16"/><path d="M1855.0 113.2L1855.9 111.8" stroke-width="4.21"/><path d="M1855.9 111.8L1856.7 110.4" stroke-width="4.25"/><path d="M1856.7 110.4L1857.5 109.0" stroke-width="4.29"/><path d="M1857.5 109.0L1858.4 107.6" stroke-width="4.34"/><path d="M1858.4 107.6L1859.2 106.2" stroke-width="4.38"/><path d="M1859.2 106.2L1860.1 104.8" stroke-width="4.40"/><path d="M1860.1 104.8L1860.9 103.4" stroke-width="4.40"/><path d="M1860.9 103.4L1861.7 102.0" stroke-width="4.40"/><path d="M1861.7 102.0L1862.5 100.5" stroke-width="4.40"/><path d="M1862.5 100.5L1863.4 99.0" stroke-width="4.40"/><path d="M1863.4 99.0L1864.2 97.5" stroke-width="4.40"/><path d="M1864.2 97.5L1865.0 96.0" stroke-width="4.40"/><path d="M1865.0 96.0L1865.9 94.5" stroke-width="4.40"/><path d="M1865.9 94.5L1866.7 93.1" stroke-width="4.40"/><path d="M1866.7 93.1L1867.5 91.6" stroke-width="4.40"/><path d="M1867.5 91.6L1868.4 90.1" stroke-width="4.40"/><path d="M1868.4 90.1L1869.3 88.7" stroke-width="4.40"/><path d="M1869.3 88.7L1870.1 87.3" stroke-width="4.40"/><path d="M1870.1 87.3L1871.0 86.0" stroke-width="4.40"/><path d="M1871.0 86.0L1871.9 84.7" stroke-width="4.39"/><path d="M1871.9 84.7L1872.8 83.4" stroke-width="4.38"/><path d="M1872.8 83.4L1873.7 82.1" stroke-width="4.36"/><path d="M1873.7 82.1L1874.7 80.8" stroke-width="4.35"/><path d="M1874.7 80.8L1875.6 79.6" stroke-width="4.34"/><path d="M1875.6 79.6L1876.5 78.3" stroke-width="4.32"/><path d="M1876.5 78.3L1877.5 77.1" stroke-width="4.31"/><path d="M1877.5 77.1L1878.4 75.9" stroke-width="4.29"/><path d="M1878.4 75.9L1879.4 74.7" stroke-width="4.28"/><path d="M1879.4 74.7L1880.4 73.6" stroke-width="4.26"/><path d="M1880.4 73.6L1881.4 72.4" stroke-width="4.25"/><path d="M1881.4 72.4L1882.4 71.3" stroke-width="4.24"/><path d="M1882.4 71.3L1883.4 70.2" stroke-width="4.22"/><path d="M1883.4 70.2L1884.5 69.1" stroke-width="4.21"/><path d="M1884.5 69.1L1885.6 68.1" stroke-width="4.19"/><path d="M1885.6 68.1L1886.7 67.1" stroke-width="4.18"/><path d="M1886.7 67.1L1887.9 66.0" stroke-width="4.16"/><path d="M1887.9 66.0L1889.0 65.0" stroke-width="4.15"/><path d="M1889.0 65.0L1890.2 64.1" stroke-width="4.14"/><path d="M1890.2 64.1L1891.4 63.1" stroke-width="4.12"/><path d="M1891.4 63.1L1892.6 62.2" stroke-width="4.11"/><path d="M1892.6 62.2L1893.9 61.3" stroke-width="4.09"/><path d="M1893.9 61.3L1895.1 60.4" stroke-width="4.08"/><path d="M1895.1 60.4L1896.3 59.6" stroke-width="4.06"/><path d="M1896.3 59.6L1897.6 58.7" stroke-width="4.05"/><path d="M1897.6 58.7L1898.9 58.0" stroke-width="4.04"/><path d="M1898.9 58.0L1900.1 57.2" stroke-width="4.02"/><path d="M1900.1 57.2L1901.4 56.5" stroke-width="4.01"/><path d="M1901.4 56.5L1902.7 55.8" stroke-width="3.98"/><path d="M1902.7 55.8L1904.1 55.2" stroke-width="3.94"/><path d="M1904.1 55.2L1905.6 54.5" stroke-width="3.89"/><path d="M1905.6 54.5L1907.1 53.9" stroke-width="3.85"/><path d="M1907.1 53.9L1908.6 53.4" stroke-width="3.81"/><path d="M1908.6 53.4L1910.2 52.8" stroke-width="3.76"/><path d="M1910.2 52.8L1911.7 52.3" stroke-width="3.72"/><path d="M1911.7 52.3L1913.2 51.9" stroke-width="3.68"/><path d="M1913.2 51.9L1914.6 51.4" stroke-width="3.64"/><path d="M1914.6 51.4L1915.9 51.0" stroke-width="3.59"/><path d="M1915.9 51.0L1917.2 50.6" stroke-width="3.55"/><path d="M1917.2 50.6L1918.2 50.3" stroke-width="3.51"/><path d="M1918.2 50.3L1919.2 50.0" stroke-width="3.46"/><path d="M1919.2 50.0L1919.9 49.7" stroke-width="3.42"/></g>
</svg>
</body></html>
